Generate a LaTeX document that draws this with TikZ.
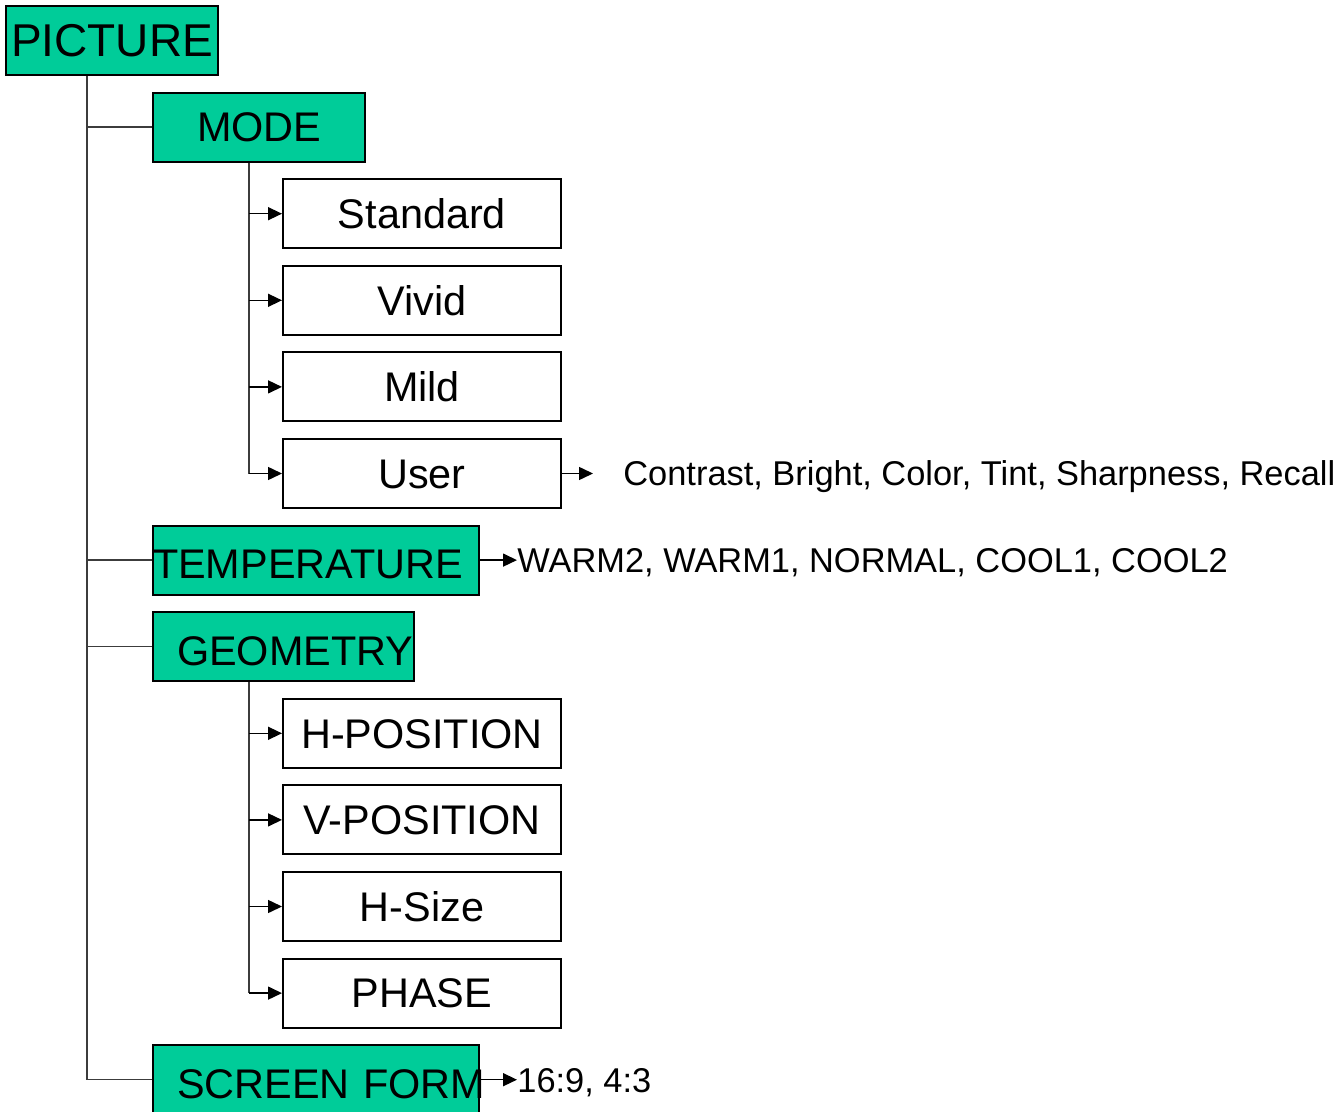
\documentclass[tikz,border=0pt]{standalone}
\usepackage{fontspec}
\setmainfont{Liberation Sans}
\usetikzlibrary{arrows.meta, positioning}
\definecolor{menugreen}{RGB}{0,204,153}
\definecolor{linegray}{RGB}{60,60,60}

\begin{document}
\begin{tikzpicture}[x=0.5pt, y=-0.5pt,
  greenbox/.style={draw=black, line width=1pt, fill=menugreen, inner sep=0pt,
    text width=#1, align=left, minimum height=34.5pt,
    font=\fontsize{20.7}{24}\selectfont, text height=14.8pt, text depth=0pt},
  itembox/.style={draw=black, line width=1pt, fill=white, inner sep=0pt,
    minimum width=139pt, minimum height=34.5pt,
    font=\fontsize{20.7}{24}\selectfont, text height=14.8pt, text depth=0pt},
  options/.style={anchor=west, inner sep=0pt,
    font=\fontsize{17.2}{20}\selectfont, text height=12.3pt, text depth=0pt},
  branch/.style={draw=linegray, line width=0.75pt},
  feed/.style={draw=black, line width=0.75pt, -{Triangle[length=7pt, width=6.5pt]}}]
  \useasboundingbox (0,0) rectangle (1342,1112);
  \clip (0,0) rectangle (1342,1112);

  % Menu heads
  \node[greenbox=106pt, font=\fontsize{23}{26}\selectfont, text height=16.5pt]
    (picture) at (112,40.5) {\mbox{\hspace{2.5pt}PICTURE}};
  \node[greenbox=106pt] (mode) at (259,127.1) {\mbox{\hspace{22pt}MODE}};
  \node[greenbox=163pt, text height=18.8pt] (temp) at (316,560.1) {\mbox{TEMPERATURE}};
  \node[greenbox=130.5pt, text height=18.8pt] (geom) at (283.5,646.7) {\mbox{\hspace{12pt}GEOMETRY}};
  \node[greenbox=163pt, text height=18.8pt] (screen) at (316,1079.7) {\mbox{\hspace{12pt}SCREEN FORM}};

  % Sub items
  \foreach \name/\txt [count=\i] in {std/Standard, vivid/Vivid, mild/Mild, user/User}
    \node[itembox] (\name) at (422, 127.1+86.6*\i) {\txt};
  \foreach \name/\txt [count=\i] in {hpos/H-POSITION, vpos/V-POSITION, hsize/H-Size, phase/PHASE}
    \node[itembox] (\name) at (422, 646.7+86.6*\i) {\txt};

  % Trunk and branches
  \coordinate (trunk) at ([xshift=41pt]picture.south west);
  \draw[branch] (trunk) |- (screen.west);
  \foreach \n in {mode, temp, geom}
    \draw[branch] (trunk |- \n.west) -- (\n.west);

  \coordinate (modestem) at ([xshift=48.5pt]mode.south west);
  \draw[branch] (modestem) -- (modestem |- user.west);
  \foreach \n in {std, vivid, mild, user}
    \draw[feed] (modestem |- \n.west) -- (\n.west);

  \coordinate (geomstem) at ([xshift=48.5pt]geom.south west);
  \draw[branch] (geomstem) -- (geomstem |- phase.west);
  \foreach \n in {hpos, vpos, hsize, phase}
    \draw[feed] (geomstem |- \n.west) -- (\n.west);

  % Setting values
  \node[options] (useropts) at (623,473.5) {Contrast, Bright, Color, Tint, Sharpness, Recall};
  \coordinate (usertip) at ([xshift=-15pt]useropts.west);
  \draw[feed] (user.east) -- (usertip);

  \node[options] (tempopts) at (517,560.1) {WARM2, WARM1, NORMAL, COOL1, COOL2};
  \draw[feed] (temp.east) -- (tempopts.west);

  \node[options] (screenopts) at (517,1079.7) {16:9, 4:3};
  \draw[feed] (screen.east) -- (screenopts.west);
\end{tikzpicture}
\end{document}
